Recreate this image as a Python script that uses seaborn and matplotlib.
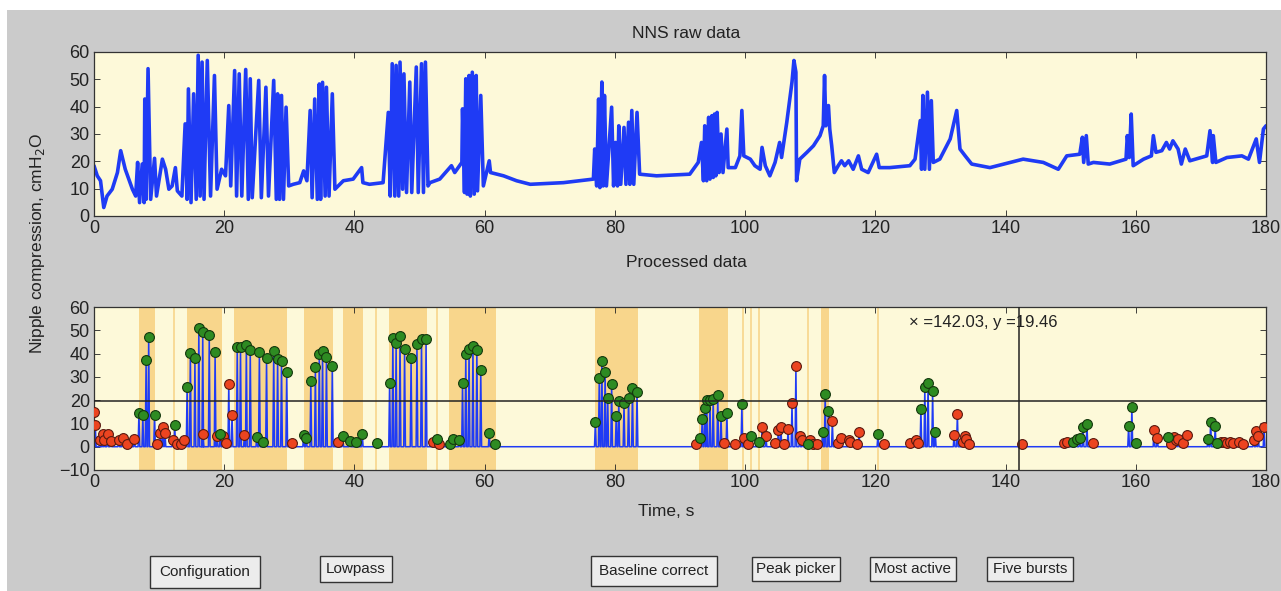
import numpy as np
import pandas as pd
import matplotlib.pyplot as plt
from matplotlib.patches import Rectangle
import seaborn as sns

# Raw NNS trace (vertices), time in s, pressure in cmH2O
raw_t = [0.0, 0.5, 1.0, 1.5, 2.0, 2.8, 3.6, 4.1, 4.8, 5.9, 6.4, 6.7, 7.0, 7.4, 7.7, 7.8, 8.0, 8.3, 8.7,
         9.3, 9.6, 10.5, 11.0, 11.5, 12.0, 12.5, 12.8, 13.5, 14.0, 14.3, 14.5, 14.9, 15.3, 15.7, 16.0,
         16.3, 16.6, 16.9, 17.4, 17.9, 18.5, 18.9, 19.6, 20.2, 20.7, 21.0, 21.6, 21.9, 22.3, 22.7, 23.3,
         23.7, 24.0, 24.3, 25.3, 25.7, 26.4, 26.8, 27.6, 28.0, 28.2, 28.5, 28.8, 29.1, 29.5, 29.9, 30.6,
         31.6, 32.2, 32.7, 33.2, 33.5, 33.9, 34.3, 34.6, 34.8, 35.1, 35.5, 35.7, 36.1, 36.6, 37.0, 38.3,
         39.8, 41.1, 41.3, 42.3, 44.4, 45.2, 45.5, 45.8, 46.2, 46.4, 46.8, 47.0, 47.4, 47.6, 48.0, 48.5,
         48.8, 49.5, 49.8, 50.3, 50.6, 50.9, 51.3, 51.6, 53.1, 54.9, 55.4, 56.5, 56.6, 56.9, 57.1, 57.3,
         57.6, 57.8, 58.1, 58.4, 58.7, 58.9, 59.4, 59.8, 60.7, 60.9, 62.9, 64.9, 67.0, 72.1, 76.7, 76.9,
         77.2, 77.5, 77.7, 78.0, 78.2, 78.4, 78.7, 79.5, 79.8, 80.1, 80.4, 80.6, 80.9, 81.4, 81.7, 82.1,
         82.3, 82.6, 82.9, 83.4, 83.8, 86.4, 91.5, 92.8, 93.3, 93.6, 93.8, 94.1, 94.4, 94.6, 94.9, 95.1,
         95.3, 95.5, 95.7, 96.0, 96.3, 96.6, 97.2, 97.4, 98.5, 99.2, 99.5, 99.8, 100.8, 101.5, 102.3,
         102.6, 103.1, 103.8, 104.6, 105.3, 105.6, 106.4, 107.2, 107.5, 107.8, 107.9, 108.4, 109.5,
         110.5, 111.5, 112.0, 112.2, 112.4, 112.8, 113.0, 113.3, 113.7, 114.3, 114.8, 115.3, 115.9,
         116.6, 117.4, 117.9, 118.9, 120.2, 120.6, 122.2, 125.3, 126.1, 126.9, 127.1, 127.3, 127.6,
         128.0, 128.3, 128.6, 128.9, 129.9, 131.5, 132.5, 133.0, 133.8, 134.8, 137.6, 140.7, 142.7,
         145.8, 148.1, 149.4, 151.4, 151.8, 152.0, 152.4, 152.7, 153.5, 156.0, 158.5, 158.7, 159.0,
         159.3, 159.6, 161.2, 162.4, 162.7, 163.1, 164.0, 164.7, 165.2, 165.7, 166.5, 167.0, 167.6,
         168.3, 170.9, 171.4, 171.8, 171.9, 172.3, 174.0, 176.3, 177.3, 178.5, 179.0, 179.6, 180.0]
raw_v = [18.4, 14.7, 12.9, 3.1, 7.3, 9.8, 15.9, 23.9, 17.1, 9.8, 7.3, 19.6, 4.9, 19.0, 4.9, 42.8, 6.1, 53.9, 6.1,
         21.1, 7.3, 20.8, 17.1, 9.8, 11.0, 17.7, 9.2, 7.3, 33.7, 6.1, 46.5, 4.9, 44.7, 6.1, 58.8,
         7.3, 56.3, 6.1, 56.9, 7.3, 51.4, 9.8, 17.1, 14.7, 40.4, 11.0, 53.2, 7.3, 52.0, 7.3, 53.6,
         6.1, 50.2, 6.7, 49.6, 6.7, 47.1, 7.3, 49.6, 6.1, 44.7, 6.1, 44.1, 6.1, 39.8, 11.0, 11.6,
         12.2, 16.5, 12.9, 38.6, 6.7, 42.8, 6.1, 48.3, 6.1, 48.9, 7.3, 47.1, 7.3, 44.7, 9.8, 12.9,
         13.5, 17.7, 12.2, 11.6, 12.2, 37.9, 7.3, 55.7, 7.3, 55.1, 7.3, 56.3, 9.8, 52.0, 8.6, 49.0,
         8.6, 54.5, 8.6, 55.7, 8.6, 56.3, 11.0, 12.2, 13.5, 18.4, 15.9, 19.6, 39.2, 8.6, 50.2, 8.0,
         51.4, 7.3, 52.6, 8.0, 51.4, 9.2, 44.1, 11.0, 20.2, 15.9, 14.7, 12.9, 11.6, 12.2, 13.5, 24.5,
         11.0, 42.8, 10.4, 49.0, 11.0, 44.1, 11.0, 39.8, 11.0, 26.9, 11.0, 33.0, 11.6, 32.4, 11.6, 34.3,
         11.6, 38.6, 11.6, 37.9, 15.3, 14.7, 15.3, 19.6, 26.9, 12.9, 33.0, 12.9, 36.1, 13.5, 36.7, 14.1,
         37.3, 14.7, 37.9, 15.9, 30.0, 15.9, 31.8, 17.7, 17.7, 22.0, 38.6, 22.0, 20.8, 18.4, 17.1,
         25.1, 18.4, 14.7, 19.6, 26.9, 21.4, 34.3, 49.0, 56.9, 52.6, 12.9, 20.8, 23.3,
         25.7, 29.4, 33.0, 51.4, 33.0, 40.4, 31.8, 25.7, 15.9, 18.4, 20.2, 18.4, 20.2,
         17.1, 22.0, 17.1, 15.9, 22.6, 17.7, 17.7, 18.4, 20.8, 34.9, 17.1, 44.1, 17.1,
         45.3, 17.1, 42.2, 19.6, 20.8, 28.2, 38.6, 24.5, 22.0, 19.0, 17.7, 19.6, 20.8,
         19.6, 17.1, 22.0, 22.6, 28.8, 19.6, 29.4, 19.0, 19.6, 19.0, 20.8, 29.4, 21.4,
         37.3, 18.4, 20.8, 22.0, 29.4, 23.3, 23.9, 26.9, 24.5, 27.5, 24.5, 19.0, 24.5,
         20.2, 22.0, 31.2, 19.6, 29.4, 19.6, 21.4, 22.0, 20.8, 28.2, 19.6, 31.8, 33.0]

# Detected peaks in processed data: accepted (green) and rejected (red)
good_t = [6.9, 7.5, 8.0, 8.4, 9.3, 12.4, 14.3, 14.8, 15.5, 16.1, 16.7, 17.7, 18.6, 19.4, 22.0, 22.5,
          23.4, 24.0, 25.0, 25.4, 26.0, 26.5, 27.6, 28.2, 28.8, 29.6, 32.2, 32.6, 33.3, 34.0, 34.6,
          35.1, 35.7, 36.6, 38.2, 39.3, 40.2, 41.2, 43.4, 45.4, 45.9, 46.4, 47.0, 47.7, 48.7, 49.6,
          50.3, 51.0, 52.7, 54.7, 55.1, 56.1, 56.6, 57.1, 57.6, 58.2, 58.8, 59.4, 60.7, 61.6, 77.0,
          77.6, 78.0, 78.5, 78.9, 79.5, 80.2, 80.6, 81.4, 82.1, 82.7, 83.4, 93.0, 93.4, 93.8, 94.1,
          94.6, 95.1, 95.8, 96.3, 97.2, 99.5, 100.9, 102.1, 109.6, 111.9, 112.3, 112.8, 120.4, 127.0,
          127.6, 128.1, 128.8, 129.2, 150.4, 150.9, 151.4, 151.9, 152.5, 158.9, 159.4, 160.0, 165.0,
          171.1, 171.5, 172.2, 172.5]
good_v = [14.3, 13.5, 37.1, 47.2, 13.7, 9.4, 25.6, 40.2, 37.9, 51.1, 49.2, 48.1, 40.7, 5.6, 42.8, 42.8,
          43.7, 41.4, 4.3, 40.7, 1.9, 37.9, 40.9, 37.8, 36.8, 32.3, 5.0, 3.7, 28.3, 34.1, 39.8,
          40.9, 38.5, 34.8, 4.7, 2.6, 1.9, 5.4, 1.4, 27.3, 46.7, 44.5, 47.7, 41.9, 37.9, 44.2,
          46.2, 46.2, 3.3, 1.1, 3.3, 2.7, 27.3, 39.9, 41.9, 43.4, 41.7, 32.8, 5.9, 1.1, 10.6,
          29.5, 36.6, 32.3, 20.8, 27.1, 13.3, 19.8, 18.6, 20.9, 25.2, 23.6, 3.7, 11.7, 16.5, 19.9,
          20.0, 20.6, 22.2, 13.3, 14.3, 18.3, 4.4, 1.9, 1.1, 6.3, 22.6, 15.2, 5.4, 16.2,
          25.6, 27.3, 24.0, 6.3, 1.9, 3.3, 3.7, 8.4, 9.7, 9.0, 16.9, 1.6, 4.3,
          3.4, 10.7, 9.0, 1.4]
bad_t = [0.0, 0.2, 0.9, 1.4, 1.6, 2.1, 2.6, 3.8, 4.4, 5.1, 6.2, 9.7, 10.2, 10.6, 10.9, 12.1, 12.8, 13.3,
         13.8, 16.7, 18.9, 19.8, 20.3, 20.7, 21.2, 23.1, 30.4, 37.4, 52.1, 53.0, 92.4, 96.7, 98.5, 99.9,
         100.4, 102.6, 103.2, 104.6, 105.1, 105.5, 106.0, 106.6, 107.2, 107.8, 108.4, 108.8, 110.0,
         110.5, 111.0, 113.4, 114.2, 114.8, 115.9, 116.1, 117.2, 117.5, 121.3, 125.4, 126.2, 126.6,
         132.1, 132.6, 133.4, 133.7, 134.0, 134.4, 142.5, 148.9, 149.4, 153.5, 162.8, 163.3, 165.4,
         165.8, 166.2, 166.5, 167.3, 167.8, 173.1, 173.5, 174.0, 174.5, 175.0, 175.9, 176.4, 178.1,
         178.5, 178.8, 179.7]
bad_v = [14.7, 9.4, 2.7, 5.4, 2.7, 5.4, 2.3, 2.7, 3.7, 1.1, 3.1, 1.1, 5.9, 8.3, 5.9, 3.0, 1.1, 1.1,
         2.9, 5.4, 4.6, 4.6, 1.4, 27.1, 13.5, 5.0, 1.4, 1.9, 1.9, 1.1, 1.1, 1.6, 1.1, 3.7,
         1.1, 8.3, 4.4, 1.6, 7.3, 8.3, 1.1, 7.7, 18.6, 34.5, 4.4, 3.0, 3.0,
         1.1, 1.1, 10.9, 1.4, 3.7, 3.0, 1.9, 1.1, 6.3, 1.1, 1.6, 3.0, 1.4,
         5.0, 14.2, 1.9, 4.4, 3.3, 1.1, 1.1, 1.6, 1.9, 1.6, 7.3, 3.7, 1.1,
         4.0, 3.0, 3.4, 1.4, 5.2, 1.9, 1.9, 1.4, 1.9, 1.4, 1.9, 1.1, 3.0,
         6.9, 4.4, 8.3]

# Burst regions (orange) and single-event markers (thin lines)
band_start = [6.9, 14.3, 21.5, 32.3, 38.2, 45.3, 54.5, 77.0, 92.9, 111.7]
band_end = [9.3, 19.7, 29.7, 36.7, 41.3, 51.2, 61.7, 83.6, 97.4, 112.9]
thin_lines = [12.3, 43.3, 52.7, 99.7, 100.9, 102.1, 109.7, 120.4]

cursor_x = 142.03
cursor_y = 19.46

buttons = ["Configuration", "Lowpass", "Baseline correct", "Peak picker", "Most active", "Five bursts"]

BLUE = "#1f3bf5"
FACE = "#fdf9d9"
BG = "#cbcbcb"
BAND = "#f8d68c"

sns.set_style("ticks")
plt.rcParams["font.family"] = ["Liberation Sans", "DejaVu Sans"]

fig = plt.figure(figsize=(12.81, 5.91), dpi=100)
fig.patch.set_facecolor("white")
fig.patches.append(Rectangle((7 / 1281, 0), 1 - 7 / 1281, 1 - 10 / 591, transform=fig.transFigure,
                             facecolor=BG, edgecolor="none", zorder=-10))

ax1 = fig.add_axes([94 / 1281, 1 - 216 / 591, (1266 - 94) / 1281, 164 / 591])
ax2 = fig.add_axes([94 / 1281, 1 - 470 / 591, (1266 - 94) / 1281, 163 / 591])

# top: raw data
raw = pd.DataFrame({"t": raw_t, "v": raw_v})
sns.lineplot(data=raw, x="t", y="v", ax=ax1, color=BLUE, lw=2.6, sort=False, estimator=None)
ax1.set_xlim(0, 180)
ax1.set_ylim(0, 60)

# bottom: processed data built from peak list (spike per detected peak, baseline 0)
peaks = pd.DataFrame({"t": good_t + bad_t, "v": good_v + bad_v}).sort_values("t")
trace_t, trace_v = [], []
for t, v in zip(peaks["t"], peaks["v"]):
    trace_t += [t - 0.13, t, t + 0.13]
    trace_v += [0.0, v, 0.0]
proc = pd.DataFrame({"t": trace_t, "v": trace_v})

for s, e in zip(band_start, band_end):
    ax2.axvspan(s, e, color=BAND, lw=0, zorder=0)
for x in thin_lines:
    ax2.axvline(x, color=BAND, lw=1.2, zorder=0)

sns.lineplot(data=proc, x="t", y="v", ax=ax2, color=BLUE, lw=1.1, sort=False, estimator=None, zorder=2)
sns.scatterplot(x=bad_t, y=bad_v, ax=ax2, color="#ec4420", edgecolor="#5a1a10", s=50, lw=0.8, zorder=3)
sns.scatterplot(x=good_t, y=good_v, ax=ax2, color="#2e8b22", edgecolor="#14380e", s=50, lw=0.8, zorder=4)
ax2.axhline(cursor_y, color="#222222", lw=1.1, zorder=5)
ax2.axvline(cursor_x, color="#222222", lw=1.1, zorder=5)
ax2.set_xlim(0, 180)
ax2.set_ylim(-10, 60)

for ax in (ax1, ax2):
    ax.set_facecolor(FACE)
    ax.set_xlabel("")
    ax.set_ylabel("")
    ax.set_xticks(range(0, 181, 20))
    ax.tick_params(direction="in", length=4, width=0.6, labelsize=13, colors="#222222",
                   top=True, right=True, pad=3)
    for sp in ax.spines.values():
        sp.set_visible(True)
        sp.set_color("#333333")
        sp.set_linewidth(0.9)
ax1.set_yticks(range(0, 61, 10))
ax2.set_yticks(range(-10, 61, 10))
ax2.set_yticklabels(["\u221210"] + [str(v) for v in range(0, 61, 10)])

fig.text(686 / 1281, 1 - 33 / 591, "NNS raw data", ha="center", va="center", fontsize=12.5, color="#222222")
fig.text(686 / 1281, 1 - 262 / 591, "Processed data", ha="center", va="center", fontsize=12.5, color="#222222")
fig.text(666 / 1281, 1 - 511 / 591, "Time, s", ha="center", va="center", fontsize=12.5, color="#222222")
fig.text(38 / 1281, 1 - 243 / 591, "Nipple compression, cmH$_2$O", rotation=90, ha="center", va="center",
         fontsize=12.5, color="#222222")
fig.text(909 / 1281, 1 - 322 / 591, f"\u00d7 ={cursor_x:.2f}, y ={cursor_y:.2f}", ha="left", va="center",
         fontsize=12, color="#222222")

btn_x = [205, 356, 654, 796, 913, 1030]
btn_y = [572, 569, 571, 569, 569, 569]
btn_pad = [0.6, 0.4, 0.55, 0.3, 0.3, 0.35]
for label, bx, by, bp in zip(buttons, btn_x, btn_y, btn_pad):
    fig.text(bx / 1281, 1 - by / 591, label, ha="center", va="center", fontsize=11, color="#222222",
             bbox=dict(boxstyle=f"square,pad={bp}", facecolor="#ececec", edgecolor="#333333", lw=1.0))

fig.savefig("out.png", dpi=100)
